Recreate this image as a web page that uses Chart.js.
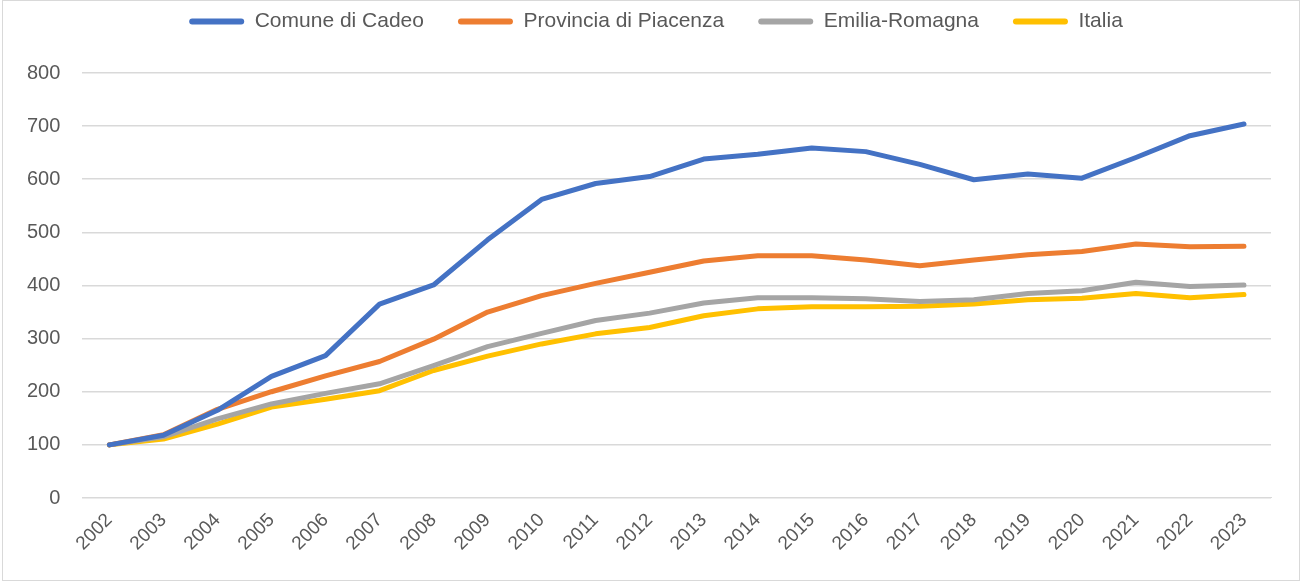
<!DOCTYPE html>
<html>
<head>
<meta charset="utf-8">
<script src="https://cdn.jsdelivr.net/npm/chart.js@4.4.0/dist/chart.umd.min.js"></script>
<style>
  body { margin: 0; background: #fff; }
  #wrap { position: absolute; left: 2px; top: 0; width: 1296px; height: 579px; border: 1px solid #d9d9d9; }
</style>
</head>
<body>
<div id="wrap"><canvas id="chart"></canvas></div>
<script>
const years = ['2002','2003','2004','2005','2006','2007','2008','2009','2010','2011','2012','2013','2014','2015','2016','2017','2018','2019','2020','2021','2022','2023'];
const cadeo = [100,118,165,229,268,365,401,486,562,592,605,638,647,659,652,628,599,610,602,641,682,704];
const piacenza = [100,119,167,200,230,257,299,350,381,404,425,446,456,456,448,437,448,458,464,478,473,474];
const emilia = [100,115,149,177,197,215,249,285,310,334,348,367,377,377,375,370,373,385,390,406,398,401];
const italia = [100,111,139,171,186,202,240,267,290,309,321,343,356,360,360,361,365,373,376,385,377,383];

const mk = (label, values, color) => ({
  label: label,
  data: values,
  borderColor: color,
  backgroundColor: color,
  borderWidth: 5,
  pointRadius: 0,
  tension: 0,
  borderCapStyle: 'round',
  borderJoinStyle: 'round'
});

// extra room under the legend, and nudge it right a bit
const legendSpace = {
  id: 'legendSpace',
  afterInit(chart) {
    const fit = chart.legend.fit;
    chart.legend.fit = function () {
      fit.call(this);
      this.height += 31;
    };
  },
  afterLayout(chart) {
    chart.legend.left += 18;
    chart.legend.right += 18;
  }
};

new Chart(document.getElementById('chart'), {
  type: 'line',
  data: {
    labels: years,
    datasets: [
      mk('Comune di Cadeo', cadeo, '#4472c4'),
      mk('Provincia di Piacenza', piacenza, '#ed7d31'),
      mk('Emilia-Romagna', emilia, '#a5a5a5'),
      mk('Italia', italia, '#ffc000')
    ]
  },
  plugins: [legendSpace],
  options: {
    responsive: true,
    maintainAspectRatio: false,
    animation: false,
    layout: { padding: { left: 2, right: 28, top: -24, bottom: 22 } },
    plugins: {
      tooltip: { enabled: false },
      legend: {
        position: 'top',
        labels: {
          font: { family: 'Liberation Sans', size: 21 },
          color: '#595959',
          boxWidth: 55,
          boxHeight: 6,
          padding: 34,
          useBorderRadius: true,
          borderRadius: 3,
          generateLabels: chart => Chart.defaults.plugins.legend.labels.generateLabels(chart).map(l => Object.assign(l, { lineWidth: 0 }))
        }
      }
    },
    scales: {
      x: {
        offset: true,
        grid: { display: false },
        border: { color: '#d9d9d9' },
        ticks: {
          color: '#595959',
          font: { family: 'Liberation Sans', size: 19 },
          maxRotation: 45,
          minRotation: 45,
          autoSkip: false
        }
      },
      y: {
        min: 0,
        max: 800,
        border: { display: false },
        grid: { color: '#d9d9d9', lineWidth: 1.5, drawTicks: false },
        ticks: {
          stepSize: 100,
          color: '#595959',
          padding: 22,
          font: { family: 'Liberation Sans', size: 20 }
        }
      }
    }
  }
});
</script>
</body>
</html>
